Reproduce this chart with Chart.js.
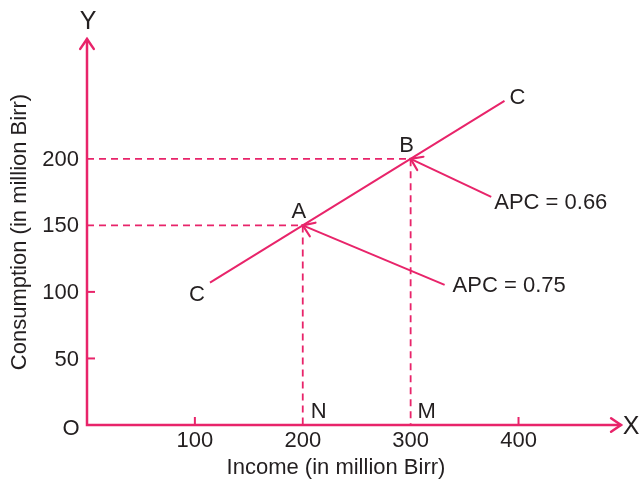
<!DOCTYPE html>
<html>
<head>
<meta charset="utf-8">
<script src="https://cdn.jsdelivr.net/npm/chart.js@4/dist/chart.umd.min.js"></script>
<style>
  html, body { margin: 0; padding: 0; background: #fff; }
</style>
</head>
<body>
<canvas id="chart" width="640" height="479"></canvas>
<script>
// tick labels
const xTicks = [100, 200, 300, 400];
const yTicks = [50, 100, 150, 200];

// consumption function C-C (income, consumption)
const incomeCC = [114, 387];
const consumptionCC = [107, 243.5];

// points A and B on the line
const pointNames = ['A', 'B'];
const pointIncome = [200, 300];
const pointConsumption = [150, 200];
const footNames = ['N', 'M'];

// APC callouts, where each pointer starts
const apcLabels = ['APC = 0.75', 'APC = 0.66'];
const apcIncome = [331.5, 374.7];
const apcConsumption = [105.3, 171.4];

const pink = '#e8246a';
const ink = '#231f20';
const font = '"Liberation Sans", Arial, sans-serif';

function line(xs, ys) {
    return xs.map((x, i) => ({ x: x, y: ys[i] }));
}

const datasets = [];
datasets.push({
    data: line(incomeCC, consumptionCC),
    borderColor: pink, borderWidth: 2, showLine: true, pointRadius: 0
});
pointNames.forEach((name, i) => {
    datasets.push({
        data: line([0, pointIncome[i], pointIncome[i]], [pointConsumption[i], pointConsumption[i], 0]),
        borderColor: pink, borderWidth: 1.8, borderDash: [7, 5], showLine: true, pointRadius: 0
    });
    datasets.push({
        data: line([apcIncome[i], pointIncome[i]], [apcConsumption[i], pointConsumption[i]]),
        borderColor: pink, borderWidth: 2, showLine: true, pointRadius: 0
    });
});

function chevron(ctx, tx, ty, angle, size) {
    ctx.beginPath();
    ctx.moveTo(tx - size * Math.cos(angle - 0.6), ty - size * Math.sin(angle - 0.6));
    ctx.lineTo(tx, ty);
    ctx.lineTo(tx - size * Math.cos(angle + 0.6), ty - size * Math.sin(angle + 0.6));
    ctx.stroke();
}

const axesPlugin = {
    id: 'axesPlugin',
    afterDraw(chart) {
        const ctx = chart.ctx;
        const xs = chart.scales.x, ys = chart.scales.y;
        const x0 = xs.getPixelForValue(0), y0 = ys.getPixelForValue(0);
        const xEnd = xs.right, yEnd = ys.top;
        ctx.save();
        ctx.strokeStyle = pink;
        ctx.lineWidth = 2.5;
        ctx.lineCap = 'round';
        ctx.beginPath();
        ctx.moveTo(x0, yEnd);
        ctx.lineTo(x0, y0);
        ctx.lineTo(xEnd, y0);
        ctx.stroke();
        chevron(ctx, xEnd, y0, 0, 12);
        chevron(ctx, x0, yEnd, -Math.PI / 2, 12);

        // small inward ticks
        ctx.lineWidth = 2;
        ctx.lineCap = 'butt';
        [100, 400].forEach(v => {
            const px = xs.getPixelForValue(v);
            ctx.beginPath(); ctx.moveTo(px, y0); ctx.lineTo(px, y0 - 8); ctx.stroke();
        });
        [50, 100].forEach(v => {
            const py = ys.getPixelForValue(v);
            ctx.beginPath(); ctx.moveTo(x0, py); ctx.lineTo(x0 + 8, py); ctx.stroke();
        });

        // arrowheads on APC pointers
        ctx.lineWidth = 2.2;
        ctx.lineCap = 'round';
        pointNames.forEach((n, i) => {
            const tx = xs.getPixelForValue(pointIncome[i]), ty = ys.getPixelForValue(pointConsumption[i]);
            const fx = xs.getPixelForValue(apcIncome[i]), fy = ys.getPixelForValue(apcConsumption[i]);
            chevron(ctx, tx, ty, Math.atan2(ty - fy, tx - fx), 13);
        });

        ctx.fillStyle = ink;
        ctx.textBaseline = 'middle';
        ctx.textAlign = 'center';
        ctx.font = '22px ' + font;
        xTicks.forEach(v => ctx.fillText(String(v), xs.getPixelForValue(v), y0 + 16));
        ctx.textAlign = 'right';
        yTicks.forEach(v => ctx.fillText(String(v), x0 - 8, ys.getPixelForValue(v) + 1));
        ctx.textAlign = 'center';
        ctx.fillText('O', x0 - 16, y0 + 4);

        ctx.font = '25px ' + font;
        ctx.fillText('X', xEnd + 10, y0 + 2);
        ctx.fillText('Y', x0 + 1, yEnd - 17);

        ctx.font = '22px ' + font;
        ctx.fillText('Income (in million Birr)', 336, y0 + 43);
        ctx.save();
        ctx.translate(20, (yEnd + y0) / 2);
        ctx.rotate(-Math.PI / 2);
        ctx.fillText('Consumption (in million Birr)', 0, 0);
        ctx.restore();

        const cx1 = xs.getPixelForValue(incomeCC[0]), cy1 = ys.getPixelForValue(consumptionCC[0]);
        const cx2 = xs.getPixelForValue(incomeCC[1]), cy2 = ys.getPixelForValue(consumptionCC[1]);
        ctx.fillText('C', cx1 - 13, cy1 + 12);
        ctx.fillText('C', cx2 + 13, cy2 - 3);
        pointNames.forEach((n, i) => {
            const px = xs.getPixelForValue(pointIncome[i]), py = ys.getPixelForValue(pointConsumption[i]);
            ctx.fillText(n, px - 4, py - 13);
            ctx.fillText(footNames[i], px + 16, y0 - 13);
        });
        ctx.textAlign = 'left';
        const labelDx = [8, 3], labelDy = [1, 6];
        apcLabels.forEach((t, i) => {
            const fx = xs.getPixelForValue(apcIncome[i]), fy = ys.getPixelForValue(apcConsumption[i]);
            ctx.fillText(t, fx + labelDx[i], fy + labelDy[i]);
        });
        ctx.restore();
    }
};

new Chart(document.getElementById('chart'), {
    type: 'scatter',
    data: { datasets: datasets },
    options: {
        responsive: false,
        animation: false,
        layout: { padding: { left: 87, right: 19, top: 39, bottom: 54 } },
        plugins: { legend: { display: false }, tooltip: { enabled: false } },
        scales: {
            x: { type: 'linear', min: 0, max: 495, display: false },
            y: { type: 'linear', min: 0, max: 290, display: false }
        }
    },
    plugins: [axesPlugin]
});
</script>
</body>
</html>
